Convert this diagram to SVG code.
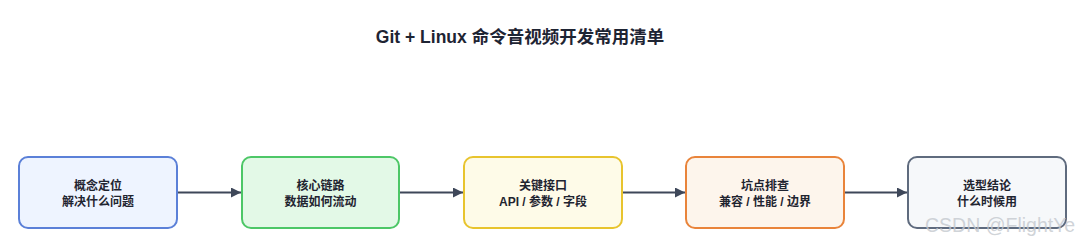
<svg xmlns="http://www.w3.org/2000/svg" width="1080" height="243" viewBox="0 0 1080 243">
<style>
.title{font-family:"Liberation Sans","Noto Sans CJK SC",sans-serif;font-size:17.5px;font-weight:bold;fill:#1e2433;text-anchor:middle}
.lbl{font-family:"Liberation Sans","Noto Sans CJK SC",sans-serif;font-size:12px;font-weight:bold;fill:#1f2430;text-anchor:middle}
.box{stroke-width:2}
.edge{stroke:#3e4759;stroke-width:2;fill:none}
.wm{font-family:"Liberation Sans","Noto Sans CJK SC",sans-serif;font-size:19.5px;fill:#c4c8ce;fill-opacity:0.8}
</style>
<defs>
<marker id="arr" viewBox="0 0 10 10" refX="10" refY="5" markerWidth="10" markerHeight="10" markerUnits="userSpaceOnUse" orient="auto">
<path d="M0,0 L10,5 L0,10 z" fill="#3e4759"/>
</marker>
</defs>
<rect width="1080" height="243" fill="#ffffff"/>
<text class="title" x="520" y="43">Git + Linux 命令音视频开发常用清单</text>
<g id="connectors">
<line class="edge" x1="177" y1="192.5" x2="241" y2="192.5" marker-end="url(#arr)"/>
<line class="edge" x1="399" y1="192.5" x2="463" y2="192.5" marker-end="url(#arr)"/>
<line class="edge" x1="622" y1="192.5" x2="685" y2="192.5" marker-end="url(#arr)"/>
<line class="edge" x1="844" y1="192.5" x2="907" y2="192.5" marker-end="url(#arr)"/>
</g>
<g id="n1">
<rect class="box" x="19" y="157" width="158" height="71" rx="9" fill="#eef4ff" stroke="#5b80d8"/>
<text class="lbl" x="98" y="189.5">概念定位</text>
<text class="lbl" x="98" y="205.5">解决什么问题</text>
</g>
<g id="n2">
<rect class="box" x="242" y="157" width="157" height="71" rx="9" fill="#e3f9e7" stroke="#4dc767"/>
<text class="lbl" x="320.5" y="189.5">核心链路</text>
<text class="lbl" x="320.5" y="205.5">数据如何流动</text>
</g>
<g id="n3">
<rect class="box" x="464" y="157" width="158" height="71" rx="9" fill="#fefbe8" stroke="#e8c42e"/>
<text class="lbl" x="543" y="189.5">关键接口</text>
<text class="lbl" x="543" y="205.5">API / 参数 / 字段</text>
</g>
<g id="n4">
<rect class="box" x="686" y="157" width="158" height="71" rx="9" fill="#fdf5ec" stroke="#e9843b"/>
<text class="lbl" x="765" y="189.5">坑点排查</text>
<text class="lbl" x="765" y="205.5">兼容 / 性能 / 边界</text>
</g>
<g id="n5">
<rect class="box" x="908" y="157" width="158" height="71" rx="9" fill="#f6f8fa" stroke="#5f6b7e"/>
<text class="lbl" x="987" y="189.5">选型结论</text>
<text class="lbl" x="987" y="205.5">什么时候用</text>
</g>
<text class="wm" x="925" y="232">CSDN @FlightYe</text>
</svg>
